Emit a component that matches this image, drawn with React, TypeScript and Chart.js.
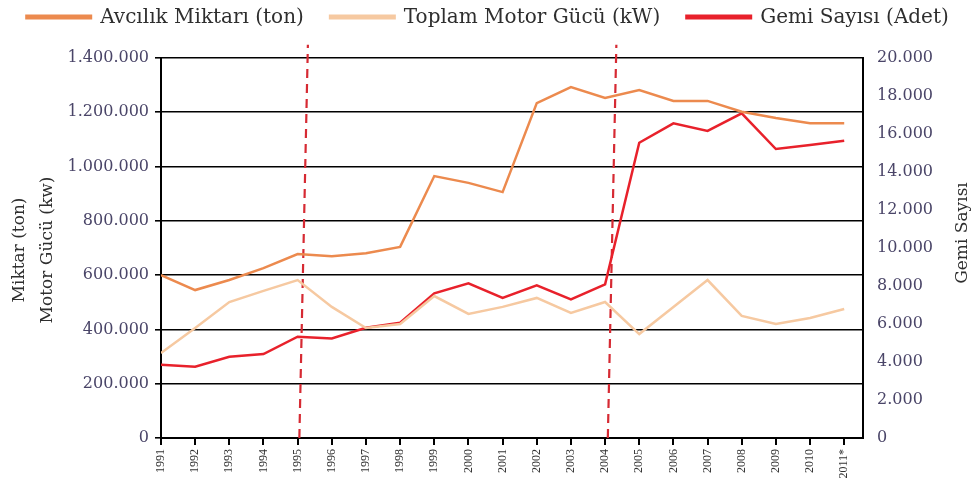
import React, { useEffect, useRef } from 'react';
import { Chart, registerables } from 'chart.js';

Chart.register(...registerables);

const years = ['1991','1992','1993','1994','1995','1996','1997','1998','1999','2000','2001','2002','2003','2004','2005','2006','2007','2008','2009','2010','2011*'];
const avcilik = [600000,545000,582000,626000,678000,670000,681000,704000,965000,940000,906000,1234000,1293000,1253000,1282000,1242000,1242000,1202000,1179000,1160000,1160000];
const motorGucu = [313000,405000,501000,542000,582000,483000,405000,420000,523000,457000,483000,516000,461000,501000,383000,483000,582000,450000,420000,442000,475000];
const gemiSayisi = [3850,3750,4280,4420,5330,5240,5800,6070,7610,8140,7370,8030,7300,8090,15540,16560,16160,17090,15210,15420,15650];
const markerYears = [4.05, 13.08];
const markerTopShift = 0.25;
const leftMax = 1400000;
const rightMax = 20000;

const fmt = (v: number) => Math.round(v).toString().replace(/\B(?=(\d{3})+(?!\d))/g, '.');

const TEXT = '#2e2e2e';

const titlePlugin = {
  id: 'axisTitles',
  afterDraw(chart: any) {
    const ctx = chart.ctx;
    const a = chart.chartArea;
    ctx.save();
    ctx.fillStyle = TEXT;
    ctx.font = '17px "DejaVu Serif"';
    ctx.textAlign = 'center';
    ctx.textBaseline = 'middle';
    const rot = (t: string, x: number, y: number) => {
      ctx.save();
      ctx.translate(x, y);
      ctx.rotate(-Math.PI / 2);
      ctx.fillText(t, 0, 0);
      ctx.restore();
    };
    rot('Miktar (ton)', a.left - 141, a.top + 192);
    rot('Motor Gücü (kw)', a.left - 113, a.top + 192);
    rot('Gemi Sayısı', a.right + 100, a.top + 175);

    // legend
    const items = chart.data.datasets.filter((d: any) => !String(d.label).startsWith('marker'));
    const sw = 67, gap = 8, sep = 25, ly = 17;
    ctx.font = '20px "DejaVu Serif"';
    ctx.textAlign = 'left';
    const widths = items.map((d: any) => sw + gap + ctx.measureText(d.label).width);
    const total = widths.reduce((s: number, w: number) => s + w, 0) + sep * (items.length - 1);
    let x = (chart.width - total) / 2;
    items.forEach((d: any, i: number) => {
      ctx.fillStyle = d.borderColor;
      ctx.fillRect(x, ly - 2.5, sw, 5);
      ctx.fillStyle = TEXT;
      ctx.fillText(d.label, x + sw + gap, ly + 1);
      x += widths[i] + sep;
    });
    ctx.restore();
  },
};

export default function App() {
  const ref = useRef<HTMLCanvasElement>(null);
  useEffect(() => {
    const pts = (arr: number[]) => arr.map((y, i) => ({ x: i, y }));
    const markers = markerYears.map((m, k) => ({
      label: 'marker' + k,
      data: [{ x: m, y: 0 }, { x: m + markerTopShift, y: leftMax * 1.035 }],
      borderColor: '#d62a33',
      borderWidth: 2.2,
      borderDash: [9, 6],
      pointRadius: 0,
      yAxisID: 'y',
      clip: false as any,
    }));
    const tickFont = { family: '"DejaVu Serif"', size: 16 };
    const chart = new Chart(ref.current!, {
      type: 'line',
      data: {
        datasets: [
          { label: 'Avcılık Miktarı (ton)', data: pts(avcilik), borderColor: '#ec8a4e', backgroundColor: '#ec8a4e', borderWidth: 2.5, pointRadius: 0, yAxisID: 'y', tension: 0 },
          { label: 'Toplam Motor Gücü (kW)', data: pts(motorGucu), borderColor: '#f6c9a1', backgroundColor: '#f6c9a1', borderWidth: 2.5, pointRadius: 0, yAxisID: 'y', tension: 0 },
          { label: 'Gemi Sayısı (Adet)', data: pts(gemiSayisi), borderColor: '#e8212b', backgroundColor: '#e8212b', borderWidth: 2.5, pointRadius: 0, yAxisID: 'y2', tension: 0 },
          ...markers,
        ] as any,
      },
      options: {
        animation: false,
        responsive: false,
        maintainAspectRatio: false,
        layout: { padding: { top: 58, left: 0, right: 0, bottom: 0 } },
        plugins: {
          tooltip: { enabled: false },
          legend: { display: false },
        },
        scales: {
          x: {
            type: 'linear',
            min: 0,
            max: 20.55,
            border: { display: true, color: '#000', width: 2 },
            grid: { display: true, drawOnChartArea: false, drawTicks: true, tickLength: 7, color: '#000', lineWidth: 2 },
            ticks: {
              stepSize: 1,
              includeBounds: false,
              autoSkip: false,
              maxRotation: 90,
              minRotation: 90,
              padding: 4,
              color: '#333',
              font: { family: '"Liberation Serif"', size: 12 },
              callback: (v: any) => (Number.isInteger(v) && years[v] !== undefined ? years[v] : ''),
            },
            afterFit: (s: any) => { s.height = 45; },
          },
          y: {
            type: 'linear',
            position: 'left',
            min: 0,
            max: leftMax,
            border: { display: true, color: '#000', width: 2 },
            grid: { color: '#000', lineWidth: 1.6, tickLength: 6, drawTicks: true },
            ticks: {
              stepSize: 200000,
              padding: 6,
              color: '#4a4568',
              font: tickFont,
              callback: (v: any) => fmt(v),
            },
            afterFit: (s: any) => { s.width = 161; },
          },
          y2: {
            type: 'linear',
            position: 'right',
            min: 0,
            max: rightMax,
            border: { display: true, color: '#000', width: 2 },
            grid: { drawOnChartArea: false, drawTicks: false },
            ticks: {
              stepSize: 2000,
              padding: 14,
              color: '#4a4568',
              font: tickFont,
              callback: (v: any) => fmt(v),
            },
            afterFit: (s: any) => { s.width = 111; },
          },
        },
      } as any,
      plugins: [titlePlugin],
    });
    return () => chart.destroy();
  }, []);
  return (
    <div style={{ position: 'fixed', left: 0, top: 0, width: 974, height: 483, background: '#fff' }}>
      <canvas ref={ref} width={974} height={483} />
    </div>
  );
}
